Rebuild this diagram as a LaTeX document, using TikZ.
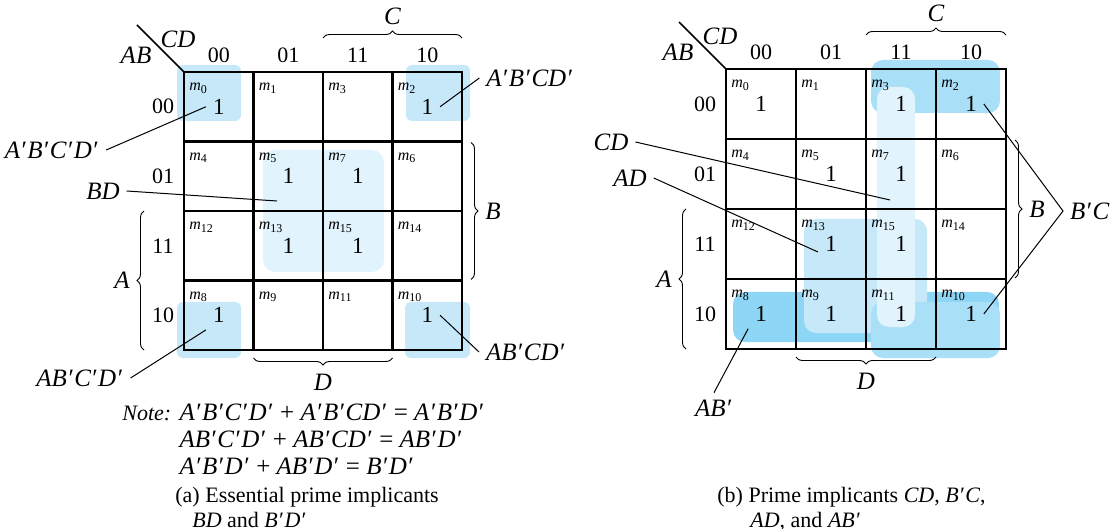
\documentclass[tikz,border=0pt]{standalone}
\usepackage{fontspec}
\setmainfont{Liberation Serif}
\usetikzlibrary{decorations.pathreplacing}

\definecolor{kpale}{HTML}{E1F3FC}
\definecolor{klight}{HTML}{C6E8F8}
\definecolor{kmid}{HTML}{A9DFF7}
\definecolor{kdeep}{HTML}{8ED6F5}

% prime with a little room after it
\newcommand\pr{′\kern0.9pt}

\begin{document}
\begin{tikzpicture}[
        x = 0.5pt, y = -0.5pt,
        every node/.style = {font = \fontsize{11}{13.5}\selectfont},
        vlabel/.style = {font = \fontsize{12.5}{13.5}\selectfont\itshape},
        cellval/.style = {font = \fontsize{11.5}{13}\selectfont},
        minterm/.style = {anchor = base west, inner sep = 0pt, font = \fontsize{8}{9}\selectfont},
        gridline/.style = {line width = 1.3pt},
        leader/.style = {line width = 0.5pt},
        curly/.style = {decorate, decoration = {brace, amplitude = 3.5pt}, line width = 0.45pt}
    ]
    \useasboundingbox (0,0) rectangle (1119,529);

    % groups of the left map
    \fill[klight, rounded corners = 3pt] (177,65) rectangle (241,121);
    \fill[klight, rounded corners = 3pt] (406,65) rectangle (470,121);
    \fill[klight, rounded corners = 3pt] (177,302) rectangle (241,358);
    \fill[klight, rounded corners = 3pt] (405,302) rectangle (470,358);
    \fill[kpale, rounded corners = 6pt] (263,150) rectangle (384,272);

    % groups of the right map
    \fill[kdeep, rounded corners = 6pt] (733,292) rectangle (999,342);
    \fill[klight, rounded corners = 6pt] (804,219) rectangle (927,333);
    \fill[kmid, rounded corners = 6pt] (871,60) rectangle (1000,113);
    \fill[kmid, rounded corners = 6pt] (871,302) rectangle (1000,358);
    \fill[kpale, rounded corners = 6pt] (877,87) rectangle (915,327);

    % both maps
    \foreach \ox/\oy/\cs in {184/72/69.5, 726/69/70} {
      \begin{scope}[shift = {(\ox,\oy)}]
        \draw[line width = 0.8pt] (-47,-47) -- (0,0);
        \node[vlabel] at (-6,-33) {CD};
        \node[vlabel] at (-48,-16.5) {AB};
        \foreach \h [count = \c from 0] in {00,01,11,10} {
          \node at ({\cs*(\c+0.5)},-16.5) {\h};
          \node at (-21,{\cs*(\c+0.5)}) {\h};
        }
        \draw[gridline] (0,0) rectangle ({4*\cs},{4*\cs});
        \foreach \i in {1,2,3} {
          \draw[gridline] ({\i*\cs},0) -- ({\i*\cs},{4*\cs});
          \draw[gridline] (0,{\i*\cs}) -- ({4*\cs},{\i*\cs});
        }
        \foreach \row [count = \r from 0] in {{0,1,3,2},{4,5,7,6},{12,13,15,14},{8,9,11,10}}
          \foreach \m [count = \c from 0] in \row
            \node[minterm] at ({\c*\cs+5},{\r*\cs+19}) {\textit{m}\textsubscript{\m}};
        \draw[curly] ({2*\cs},-34) -- ({4*\cs},-34);
        \node[vlabel] at ({3*\cs},-56) {C};
        \draw[curly] ({4*\cs+9},{\cs+1}) -- ({4*\cs+9},{3*\cs-1});
        \node[vlabel] at ({4*\cs+31},{2*\cs}) {B};
        \draw[curly] (-40,{4*\cs}) -- (-40,{2*\cs});
        \node[vlabel] at (-62,{3*\cs}) {A};
        \draw[curly] ({3*\cs},{4*\cs+8}) -- (\cs,{4*\cs+8});
        \node[vlabel] at ({2*\cs},{4*\cs+32}) {D};
      \end{scope}
    }

    % ones
    \foreach \r/\c/\m in {0/0/0, 0/3/2, 1/1/5, 1/2/7, 2/1/13, 2/2/15, 3/0/8, 3/3/10}
      \node[cellval] (L\m) at ({184+69.5*(\c+0.5)},{72+69.5*(\r+0.5)}) {1};
    \foreach \r/\c/\m in {0/0/0, 0/2/3, 0/3/2, 1/1/5, 1/2/7, 2/1/13, 2/2/15, 3/0/8, 3/1/9, 3/2/11, 3/3/10}
      \node[cellval] (R\m) at ({726+70*(\c+0.5)},{69+70*(\r+0.5)}) {1};

    % implicant labels (a)
    \node[vlabel] (nm0) at (52,150) {A\pr B\pr C\pr D\pr};
    \node[vlabel] (nm2) at (530,78) {A\pr B\pr CD\pr};
    \node[vlabel] (nBD) at (103,191) {BD};
    \node[vlabel] (nm8) at (80,378) {AB\pr C\pr D\pr};
    \node[vlabel] (nm10) at (526,352) {AB\pr CD\pr};
    \coordinate (pBD) at (277,201);
    \draw[leader] (nm0.east) -- (L0.west);
    \draw[leader] (L2.east) -- (nm2.west);
    \draw[leader] (nBD.east) -- (pBD);
    \draw[leader] (nm8.east) -- (L8.south west);
    \draw[leader] (L10.east) -- (nm10.west);

    % implicant labels (b)
    \node[vlabel] (nCD) at (611,142) {CD};
    \node[vlabel] (nAD) at (630,178) {AD};
    \node[vlabel] (nAB) at (714,408) {AB\pr};
    \node[vlabel, anchor = west] (nBC) at (1063,211) {B\pr C};
    \coordinate (pCD) at (890,200);
    \coordinate (pAD) at (818,252);
    \draw[leader] (nCD.east) -- (pCD);
    \draw[leader] (nAD.east) -- (pAD);
    \draw[leader] (nAB.north) -- (R8.south west);
    \draw[leader] (R2.east) -- (nBC.west) -- (R10.east);

    % note and captions
    \node[anchor = base west, inner sep = 0pt, font = \fontsize{12.5}{13.5}\selectfont] (note) at (122,420) {%
      \begin{tabular}[t]{@{}l@{ }l@{}}
        {\fontsize{11}{13.5}\selectfont\textit{Note:}} & \textit{A\pr B\pr C\pr D\pr} + \textit{A\pr B\pr CD\pr} = \textit{A\pr B\pr D\pr}\\
        & \textit{AB\pr C\pr D\pr} + \textit{AB\pr CD\pr} = \textit{AB\pr D\pr}\\
        & \textit{A\pr B\pr D\pr} + \textit{AB\pr D\pr} = \textit{B\pr D\pr}
      \end{tabular}};
    \node[anchor = base west, inner sep = 0pt, font = \fontsize{11}{12.5}\selectfont] (capa) at (175,502) {%
      \begin{tabular}[t]{@{}l@{}}
        (a) Essential prime implicants\\
        \hspace*{8.5pt}\textit{BD} and \textit{B\pr D\pr}
      \end{tabular}};
    \node[anchor = base west, inner sep = 0pt, font = \fontsize{11}{12.5}\selectfont] (capb) at (717,502) {%
      \begin{tabular}[t]{@{}l@{}}
        (b) Prime implicants \textit{CD}, \textit{B\pr C},\\
        \hspace*{16.5pt}\textit{AD}, and \textit{AB\pr}
      \end{tabular}};
\end{tikzpicture}
\end{document}
